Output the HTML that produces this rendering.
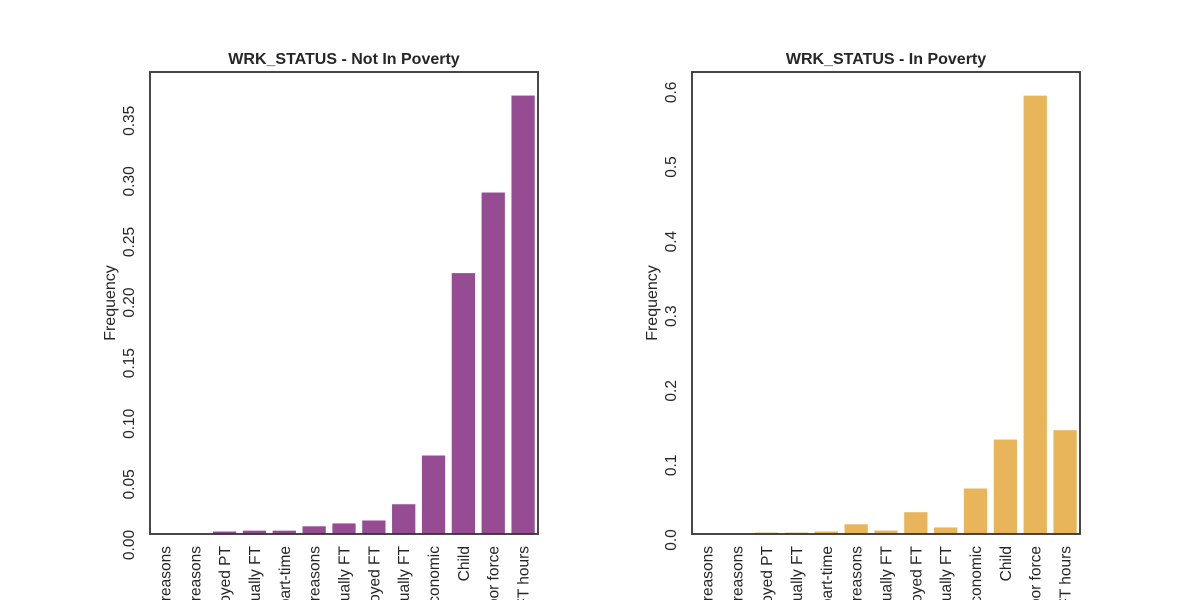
<!DOCTYPE html>
<html><head><meta charset="utf-8"><style>
html,body{margin:0;background:#fff;width:1200px;height:600px;overflow:hidden}
svg{display:block}
svg text{font-family:"Liberation Sans",Arial,sans-serif;fill:#262626}
</style></head><body>
<svg id="c" width="1200" height="600"></svg>
<script>
const categories=["PT for non-economic reasons","PT for economic reasons","Unemployed PT","PT hrs, usually FT","Not usually part-time","PT hrs, economic reasons","Not at work, usually FT","Unemployed FT","FT hrs, usually FT","PT usually, non-economic","Child","Not in labor force","FT hours"];
const notPoverty=[0,0.0005,0.0023,0.003,0.003,0.0066,0.009,0.0114,0.0248,0.065,0.2155,0.282,0.362];
const inPoverty=[0,0,0.0023,0.0023,0.0037,0.0134,0.005,0.0296,0.0092,0.0614,0.127,0.588,0.1395];
const leftTicks=["0.00","0.05","0.10","0.15","0.20","0.25","0.30","0.35"];
const rightTicks=["0.0","0.1","0.2","0.3","0.4","0.5","0.6"];
const NS="http://www.w3.org/2000/svg";
const svg=document.getElementById('c');
function mk(t,a,p){const e=document.createElementNS(NS,t);for(const k in a)e.setAttribute(k,a[k]);(p||svg).appendChild(e);return e;}
function panel(x0,x1,yTop,yBot,pxPerUnit,vals,ticks,color,title,nm,tickShift){
  const g=mk('g',{});
  
  
  const y=v=>yBot-v*pxPerUnit;
  const band=(x1-x0)/categories.length;
  vals.forEach((v,i)=>{
    const r=mk('rect',{x:x0+band*i+band*0.1,y:y(v),width:band*0.8,height:yBot-y(v),fill:color,stroke:'#fff','stroke-width':0.6},g);
    
    
    const t=mk('text',{transform:`translate(${x0+band*(i+0.5)+5.5},${yBot+12}) rotate(-90)`,'text-anchor':'end','font-size':15.5},g);
    t.textContent=categories[i];
    
    
  });
  ticks.forEach(s=>{
    const v=parseFloat(s);
    const t=mk('text',{transform:`translate(${x0-16},${y(v)+tickShift}) rotate(-90)`,'text-anchor':'middle','font-size':15.5},g);
    t.textContent=s;
    
    
  });
  const f=mk('rect',{x:x0,y:yTop,width:x1-x0,height:yBot-yTop,fill:'none',stroke:'#333','stroke-width':1.8},g);
  
  
  const tt=mk('text',{x:(x0+x1)/2,y:yTop-8,'text-anchor':'middle','font-size':16,'font-weight':'bold'},g);
  tt.textContent=title;
  
  
  const yl=mk('text',{transform:`translate(${x0-35},${(yTop+yBot)/2}) rotate(-90)`,'text-anchor':'middle','font-size':16},g);
  yl.textContent='Frequency';
  
  
}
panel(150,538,72,534,1212,notPoverty,leftTicks,'#954c93','WRK_STATUS - Not In Poverty','not-in-poverty',11);
panel(692,1080,72,534,746,inPoverty,rightTicks,'#e8b55a','WRK_STATUS - In Poverty','in-poverty',6);
</script>
</body></html>
